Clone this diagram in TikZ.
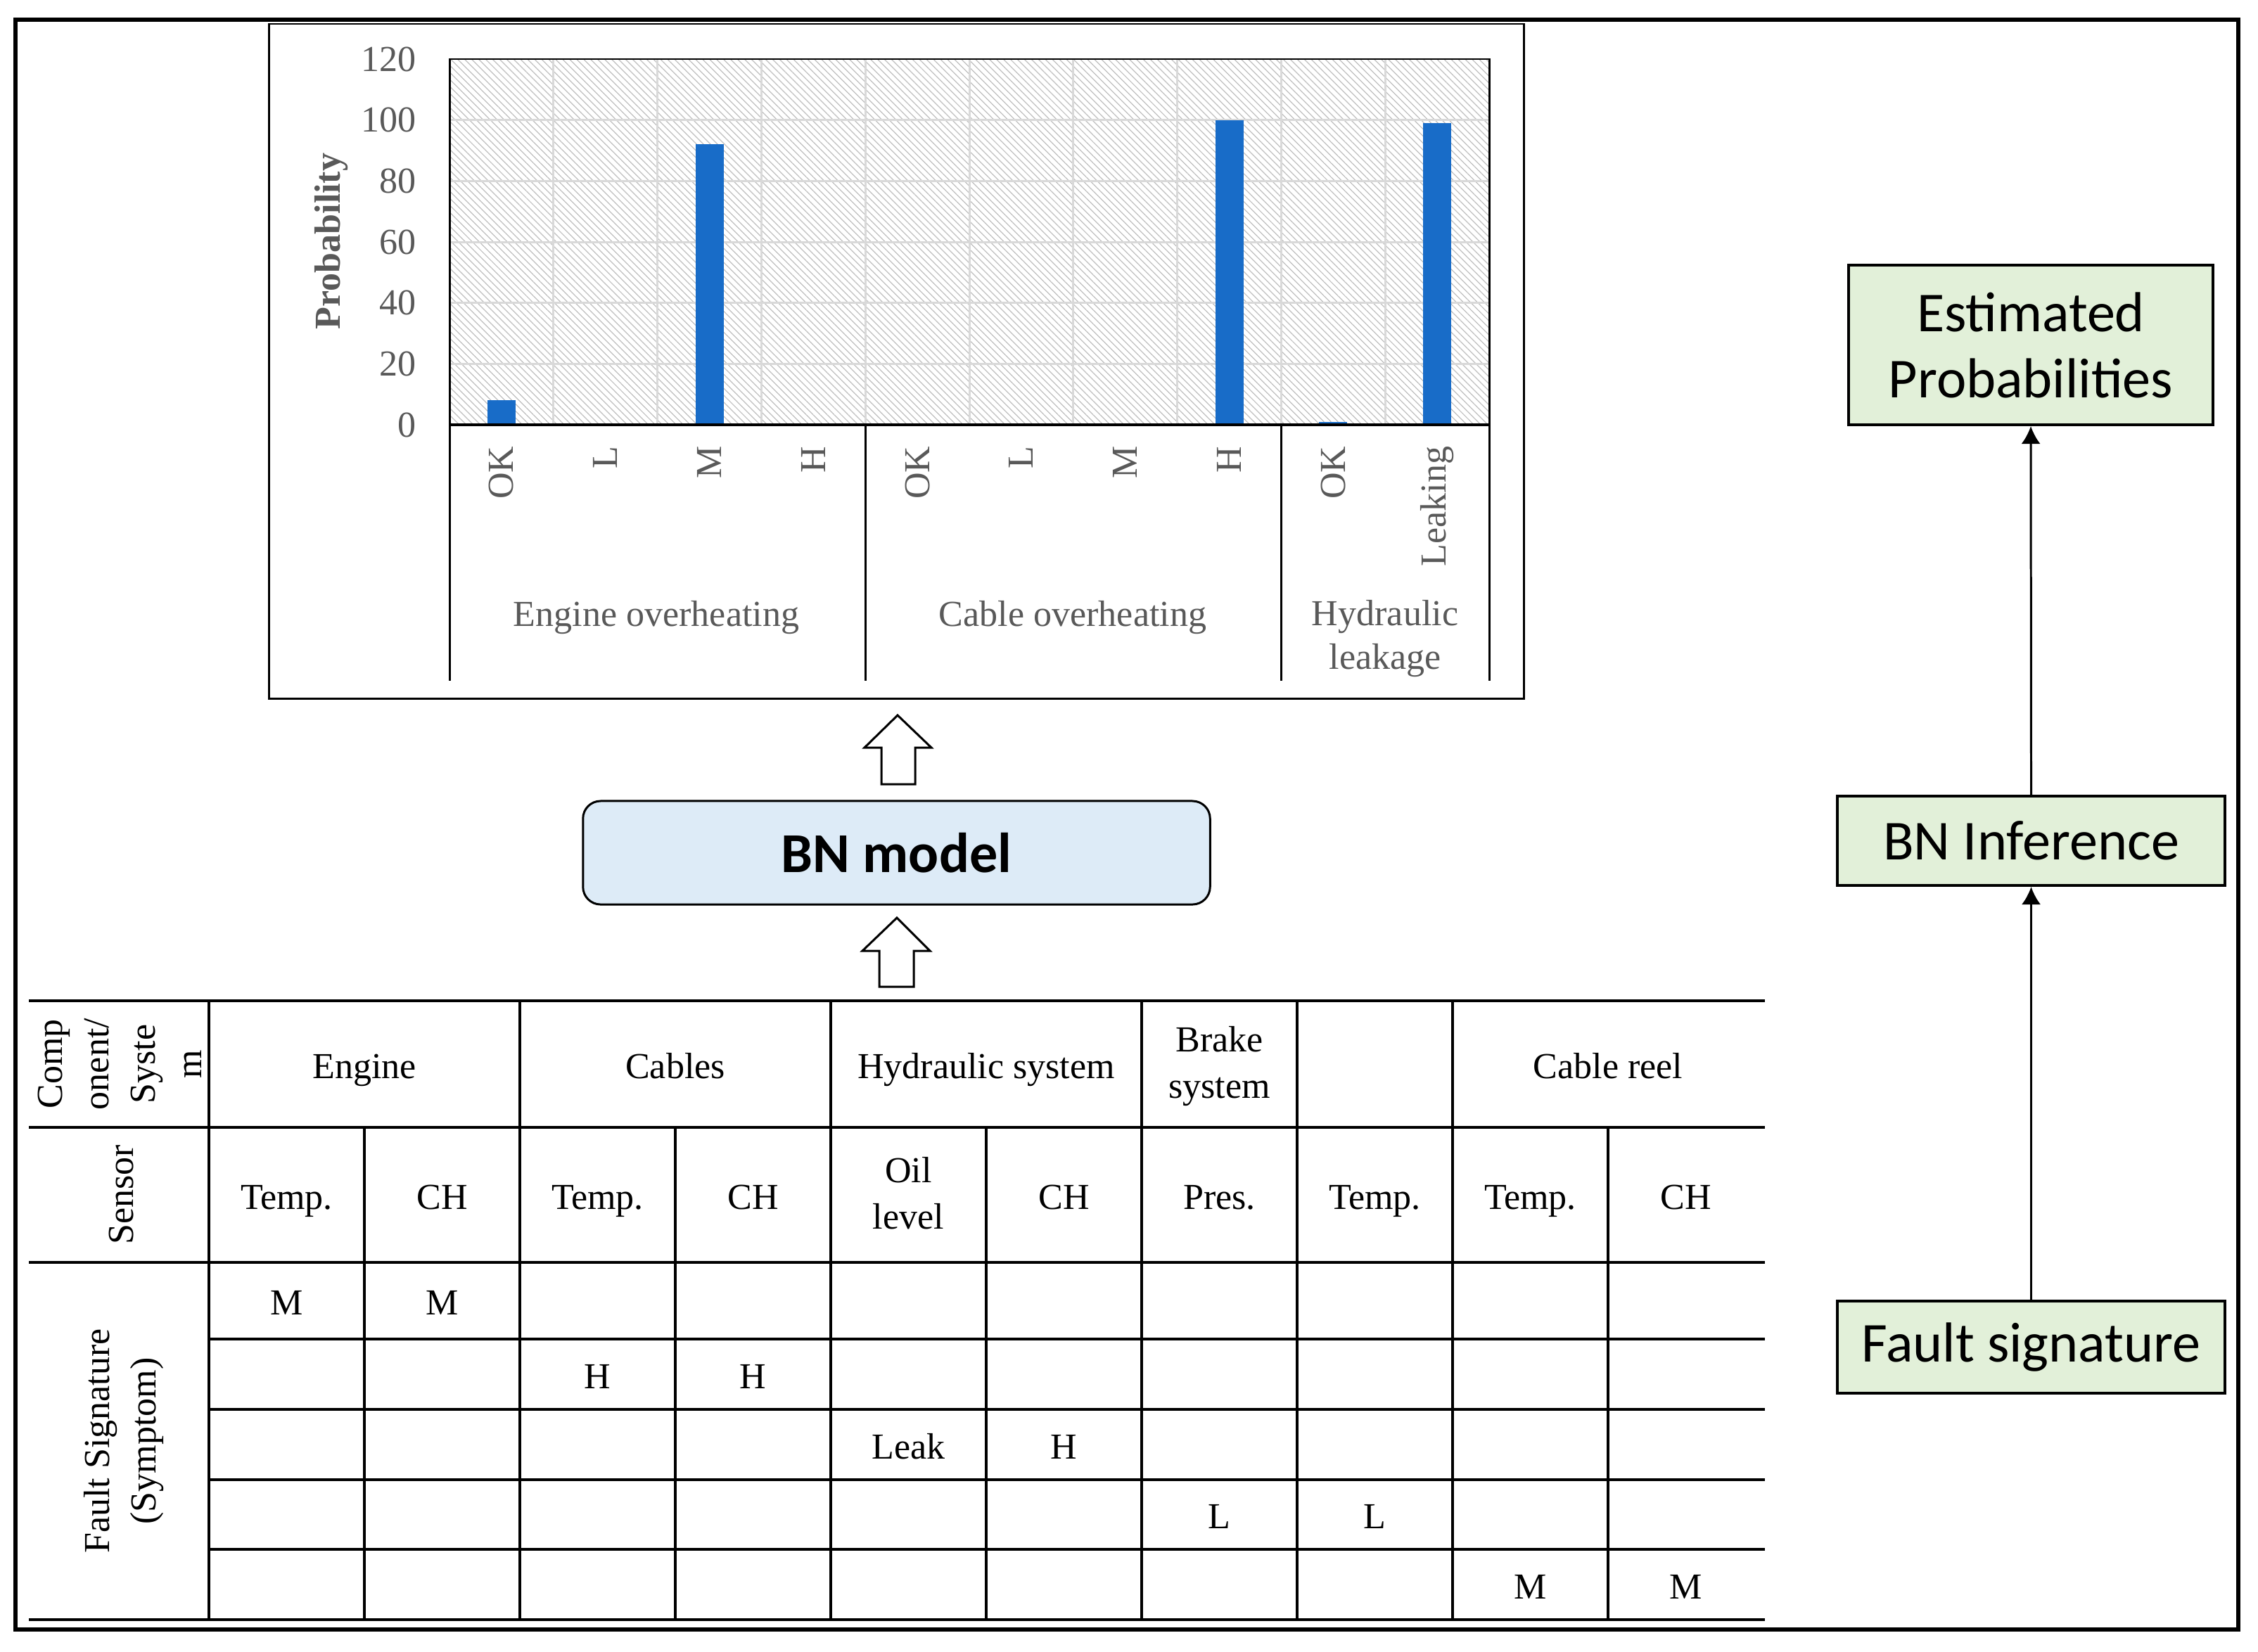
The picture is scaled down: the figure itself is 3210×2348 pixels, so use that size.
\documentclass[tikz,border=0pt]{standalone}
\usepackage{fontspec}
\setmainfont{Liberation Serif}
\newfontfamily\calibrifont{Carlito}
\usetikzlibrary{patterns.meta,arrows.meta}
\definecolor{barblue}{RGB}{24,108,200}
\definecolor{txtgray}{RGB}{89,89,89}
\definecolor{bnblue}{RGB}{221,235,247}
\definecolor{boxgreen}{RGB}{226,240,217}
\tikzset{
  rottxt/.style={font=\fontsize{14.8}{18.8}\selectfont, align=center, inner sep=0pt,
    execute at begin node=\strut, execute at end node=\strut},
  tabtxt/.style={rottxt, yshift=-2pt},
  charttxt/.style={font=\fontsize{14.8}{17.4}\selectfont, text=txtgray, align=center, inner sep=0pt},
  tabline/.style={line width=1.1pt, line cap=rect},
  greenbox/.style={draw, line width=1.1pt, fill=boxgreen, font=\calibrifont\fontsize{22.8}{26.7}\selectfont, align=center, inner sep=0pt},
  conn/.style={line width=0.85pt, -{Latex[length=0.25cm,width=0.27cm]}},
  blockarrow/.style={draw, line width=0.85pt, fill=white, line join=miter},
  gridl/.style={line width=0.85pt, gray!30}
}
\begin{document}
\begin{tikzpicture}[x=0.01cm,y=-0.01cm]
\useasboundingbox (0,0) rectangle (3210,2348);
% outer frame
\draw[line width=1.7pt] (22,28) rectangle (3182,2317);

% ---------------- chart ----------------
\draw[line width=0.85pt] (382,34) rectangle (2166,993);
\fill[pattern={Lines[angle=-45,distance=2pt,line width=0.35pt]}, pattern color=gray!50] (639,84) rectangle (2117,604);
\foreach \v in {20,40,...,100} \draw[gridl] (639,{604-4.3333*\v}) -- (2117,{604-4.3333*\v});
\foreach \k in {1,...,9} \draw[gridl] ({639+147.8*\k},84) -- ({639+147.8*\k},604);
\foreach \k/\v in {0/8,2/92,7/100,8/1,9/99}
  \fill[barblue] ({639+147.8*(\k+0.5)-20},604) rectangle ({639+147.8*(\k+0.5)+20},{604-4.3333*\v});
\draw[line width=0.85pt] (639,604) -- (639,84) -- (2117,84) -- (2117,604);
\draw[line width=1.1pt] (639,604) -- (2117,604);
\foreach \x in {639,1230,1821,2117} \draw[line width=0.85pt] (\x,604) -- (\x,968);
\foreach \v in {0,20,...,120}
  \node[charttxt, anchor=east] (yl\v) at (592,{604-4.3333*\v}) {\v};
\node[charttxt, rotate=90, font=\fontsize{14.8}{17.4}\selectfont\bfseries] (ylab) at (471,343) {Probability};
\foreach \k/\t in {0/OK,1/L,2/M,3/H,4/OK,5/L,6/M,7/H,8/OK,9/Leaking}
  \node[charttxt, rotate=90, anchor=east] (tk\k) at ({639+147.8*(\k+0.5)},634) {\t};
\node[charttxt] (g1) at (933,878) {Engine overheating};
\node[charttxt] (g2) at (1525,878) {Cable overheating};
\node[charttxt] (g3) at (1969,908) {Hydraulic\\leakage};

% ---------------- BN model and block arrows ----------------
\node[draw, line width=0.85pt, fill=bnblue, rounded corners=0.25cm, minimum width=8.91cm, minimum height=1.47cm, inner sep=0pt,
      font=\calibrifont\bfseries\fontsize{22.8}{26.7}\selectfont] (bn) at (1274.5,1212.5) {BN model};
\draw[blockarrow] (1276,1017) -- (1324,1063) -- (1301,1063) -- (1301,1115) -- (1253,1115) -- (1253,1063) -- (1229,1063) -- cycle;
\draw[blockarrow] (1275,1305) -- (1322,1352) -- (1299,1352) -- (1299,1403) -- (1250,1403) -- (1250,1352) -- (1226,1352) -- cycle;

% ---------------- table ----------------
\foreach \y in {1423,1603,1795,2303} \draw[tabline] (43,\y) -- (2507,\y);
\foreach \y in {1904,2004,2104,2203} \draw[tabline] (297,\y) -- (2507,\y);
\draw[tabline] (297,1423) -- (297,2303);
\foreach \x in {739,1181,1623,1844,2065} \draw[tabline] (\x,1423) -- (\x,1603);
\foreach \x in {518,739,960,1181,1402,1623,1844,2065,2286} \draw[tabline] (\x,1603) -- (\x,2303);

\node[rottxt, rotate=90] (hcomp) at (180,1513) {Comp\\onent/\\Syste\\m};
\node[rottxt, rotate=90] (hsens) at (176,1699) {Sensor};
\node[rottxt, rotate=90] (hfault) at (180,2049) {Fault Signature\\(Symptom)};
\node[tabtxt] (cEng) at (518,1513) {Engine};
\node[tabtxt] (cCab) at (960,1513) {Cables};
\node[tabtxt] (cHyd) at (1402,1513) {Hydraulic system};
\node[tabtxt] (cBrk) at (1733.5,1513) {Brake\\system};
\node[tabtxt] (cRel) at (2286,1513) {Cable reel};
\foreach \i/\t in {0/Temp.,1/CH,2/Temp.,3/CH,4/Oil\\level,5/CH,6/Pres.,7/Temp.,8/Temp.,9/CH}
  \node[tabtxt] (s\i) at ({297+221*(\i+0.5)},1699) {\t};
\foreach \i/\r/\t in {0/1849.5/M,1/1849.5/M,2/1954/H,3/1954/H,4/2054/Leak,5/2054/H,6/2153.5/L,7/2153.5/L,8/2253/M,9/2253/M}
  \node[tabtxt] (v\i) at ({297+221*(\i+0.5)},\r) {\t};

% ---------------- right flow ----------------
\node[greenbox, minimum width=5.18cm, minimum height=2.27cm] (est) at (2887,490.5) {Estimated\\Probabilities};
\node[greenbox, minimum width=5.51cm, minimum height=1.27cm] (inf) at (2887.5,1195.5) {BN Inference};
\node[greenbox, minimum width=5.51cm, minimum height=1.31cm] (fault) at (2887.5,1915.5) {Fault signature};
\draw[conn] (fault.north) -- (inf.south);
\draw[conn] (inf.north) -- (est.south);
\end{tikzpicture}
\end{document}
